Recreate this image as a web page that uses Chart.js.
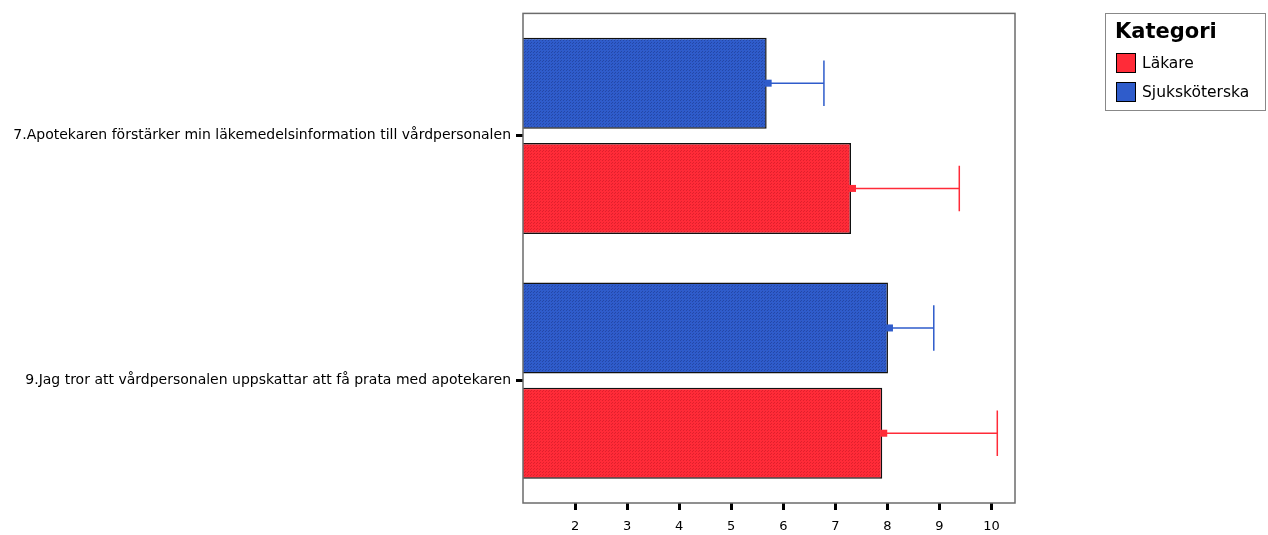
<!DOCTYPE html>
<html>
<head>
<meta charset="utf-8">
<script src="https://cdn.jsdelivr.net/npm/chart.js@4"></script>
<style>
  body { margin: 0; background: #fff; }
  #wrap { position: relative; width: 1268px; height: 535px; }
  #legend {
    position: absolute; left: 1105px; top: 13px; width: 161px; height: 98px;
    border: 1px solid #888; box-sizing: border-box; font-family: "DejaVu Sans", sans-serif;
  }
  #legend .title { position: absolute; left: 9px; top: 5px; font-weight: bold; font-size: 21px; }
  #legend .item { position: absolute; left: 10px; height: 20px; font-size: 15.5px; line-height: 20px; }
  #legend .sw { display: inline-block; width: 18px; height: 18px; border: 1px solid #000; vertical-align: top; margin-right: 6px; }
</style>
</head>
<body>
<div id="wrap">
  <canvas id="chart" width="1268" height="535"></canvas>
  <div id="legend"></div>
</div>
<script>
// categories (questions) and per-group means with the error bar half-length
const categories = [
  '7.Apotekaren förstärker min läkemedelsinformation till vårdpersonalen',
  '9.Jag tror att vårdpersonalen uppskattar att få prata med apotekaren'
];
const lakareMeans = [7.30, 7.90];
const lakareErr = [2.08, 2.21];
const sjukMeans = [5.68, 8.01];
const sjukErr = [1.10, 0.88];
const xTicks = [2, 3, 4, 5, 6, 7, 8, 9, 10];

const RED = '#ff2b38';
const BLUE = '#2f5ccb';

// dotted fill like the old spss bars
function makePattern(base, dot){
  const c = document.createElement('canvas');
  c.width = 3; c.height = 3;
  const g = c.getContext('2d');
  g.fillStyle = base;
  g.fillRect(0, 0, 3, 3);
  g.fillStyle = dot;
  g.fillRect(0, 0, 1, 1);
  g.fillRect(2, 1, 1, 1);
  return g.createPattern(c, 'repeat');
}

// frame around plot area
const framePlugin = {
  id: 'frame',
  afterDraw(chart){
    const a = chart.chartArea, ctx = chart.ctx;
    ctx.save();
    ctx.strokeStyle = '#6b6b6b';
    ctx.lineWidth = 1.5;
    ctx.strokeRect(a.left, a.top, a.right - a.left, a.bottom - a.top);
    ctx.restore();
  }
};

// error bars, only the part outside the bar shows
const errPlugin = {
  id: 'errbars',
  afterDatasetsDraw(chart){
    const ctx = chart.ctx;
    const xs = chart.scales.x;
    chart.data.datasets.forEach((ds, i) => {
      const meta = chart.getDatasetMeta(i);
      meta.data.forEach((bar, j) => {
        const v = ds.data[j];
        const x0 = xs.getPixelForValue(v);
        const x1 = xs.getPixelForValue(v + ds.err[j]);
        const y = bar.y;
        const cap = bar.height * 0.25;
        ctx.save();
        ctx.strokeStyle = ds.lineCol;
        ctx.lineWidth = 1.5;
        ctx.beginPath();
        ctx.moveTo(x0, y);
        ctx.lineTo(x1, y);
        ctx.moveTo(x1, y - cap);
        ctx.lineTo(x1, y + cap);
        ctx.stroke();
        ctx.fillStyle = ds.lineCol;
        ctx.fillRect(x0 - 2, y - 3.5, 7, 7);
        ctx.restore();
      });
    });
  }
};

const ctx = document.getElementById('chart');

new Chart(ctx, {
  type: 'bar',
  data: {
    labels: categories,
    datasets: [
      {
        label: 'Sjuksköterska',
        data: sjukMeans,
        err: sjukErr,
        lineCol: BLUE,
        backgroundColor: makePattern(BLUE, '#2448a8'),
        borderColor: '#111',
        borderWidth: 1.5,
        borderSkipped: false
      },
      {
        label: 'Läkare',
        data: lakareMeans,
        err: lakareErr,
        lineCol: RED,
        backgroundColor: makePattern(RED, '#e0202c'),
        borderColor: '#111',
        borderWidth: 1.5,
        borderSkipped: false
      }
    ]
  },
  options: {
    indexAxis: 'y',
    responsive: false,
    animation: false,
    categoryPercentage: 0.86,
    barPercentage: 0.865,
    layout: { padding: { left: 0, right: 253, top: 12, bottom: 0 } },
    plugins: { legend: { display: false }, tooltip: { enabled: false } },
    scales: {
      x: {
        min: 1,
        max: 10.45,
        afterBuildTicks: (s) => { s.ticks = xTicks.map(v => ({ value: v })); },
        afterFit: (s) => { s.height = 32; },
        grid: { drawOnChartArea: false, tickLength: 7, tickWidth: 3, tickColor: '#000' },
        border: { display: false },
        ticks: {
          color: '#000',
          padding: 9,
          font: { family: 'DejaVu Sans', size: 13 }
        }
      },
      y: {
        afterFit: (s) => { s.width = 523; },
        grid: { drawOnChartArea: false, offset: false, tickLength: 7, tickWidth: 3, tickColor: '#000' },
        border: { display: false },
        ticks: {
          color: '#000',
          padding: 5,
          font: { family: 'DejaVu Sans', size: 14 }
        }
      }
    }
  },
  plugins: [framePlugin, errPlugin]
});

// legend: Läkare first, like the original
const leg = document.getElementById('legend');
const title = document.createElement('div');
title.className = 'title';
title.textContent = 'Kategori';
leg.append(title);
const legItems = [
  { label: 'Läkare', col: RED },
  { label: 'Sjuksköterska', col: BLUE }
];
legItems.forEach((it, k) => {
  const d = document.createElement('div');
  d.className = 'item';
  d.style.top = (39 + k * 29) + 'px';
  const sw = document.createElement('span');
  sw.className = 'sw';
  sw.style.background = it.col;
  d.append(sw);
  d.append(document.createTextNode(it.label));
  leg.append(d);
});
</script>
</body>
</html>
